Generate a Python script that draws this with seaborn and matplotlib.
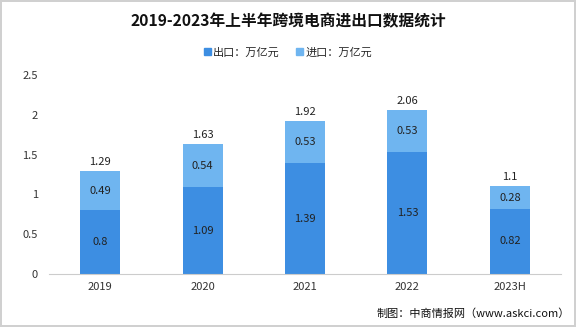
import matplotlib
matplotlib.use("Agg")
import matplotlib.pyplot as plt
import seaborn as sns
import pandas as pd
import numpy as np

years = ["2019", "2020", "2021", "2022", "2023H"]
export_vals = [0.8, 1.09, 1.39, 1.53, 0.82]
import_vals = [0.49, 0.54, 0.53, 0.53, 0.28]
totals = [1.29, 1.63, 1.92, 2.06, 1.1]
yticks = [0, 0.5, 1, 1.5, 2, 2.5]
ytick_labels = ["0", "0.5", "1", "1.5", "2", "2.5"]

sns.set_theme(style="white")
plt.rcParams['font.family'] = ['Noto Sans CJK SC', 'DejaVu Sans']

c_exp = "#3d8ee2"
c_imp = "#6fb5f0"

fig = plt.figure(figsize=(5.76, 3.27), dpi=100)
ax = fig.add_axes([0.085, 0.162, 0.889, 0.609])

df = pd.DataFrame({"year": years, "export": export_vals, "import": import_vals, "total": totals})
sns.barplot(data=df, x="year", y="total", color=c_imp, width=0.39, ax=ax, saturation=1, linewidth=0)
sns.barplot(data=df, x="year", y="export", color=c_exp, width=0.39, ax=ax, saturation=1, linewidth=0)

for i, (e, im, t) in enumerate(zip(export_vals, import_vals, totals)):
    ax.text(i, e / 2, f"{e:g}", ha="center", va="center", fontsize=8, color="#222222")
    ax.text(i, e + im / 2, f"{im:g}", ha="center", va="center", fontsize=8, color="#222222")
    ax.text(i, t + 0.05, f"{t:g}", ha="center", va="bottom", fontsize=8, color="#222222")

ax.set_ylim(0, 2.5)
ax.set_xlim(-0.5, 4.5)
ax.set_yticks(yticks)
ax.set_yticklabels(ytick_labels)
ax.tick_params(axis="both", labelsize=8, colors="#333333", length=0)
ax.tick_params(axis="y", pad=8)
ax.tick_params(axis="x", pad=6)
ax.set_xlabel("")
ax.set_ylabel("")
for s in ["top", "right", "left"]:
    ax.spines[s].set_visible(False)
ax.spines["bottom"].set_color("#cccccc")
ax.spines["bottom"].set_linewidth(0.8)

fig.text(0.5, 0.935, "2019-2023年上半年跨境电商进出口数据统计", ha="center", va="center",
         fontsize=11.3, fontweight="bold", color="#111111")

from matplotlib.patches import Patch
handles = [Patch(color=c_exp, label="出口：万亿元"), Patch(color=c_imp, label="进口：万亿元")]
fig.legend(handles=handles, loc="center", bbox_to_anchor=(0.5, 0.84), ncol=2, frameon=False,
           fontsize=8, handlelength=0.6, handleheight=0.6, handletextpad=0.2, columnspacing=1.5)

fig.text(0.99, 0.04, "制图：中商情报网（www.askci.com）", ha="right", va="center", fontsize=8, color="#111111")

fig.patch.set_edgecolor("#d0d0d0")
fig.patch.set_linewidth(1.5)

fig.savefig("out.png", dpi=100)
